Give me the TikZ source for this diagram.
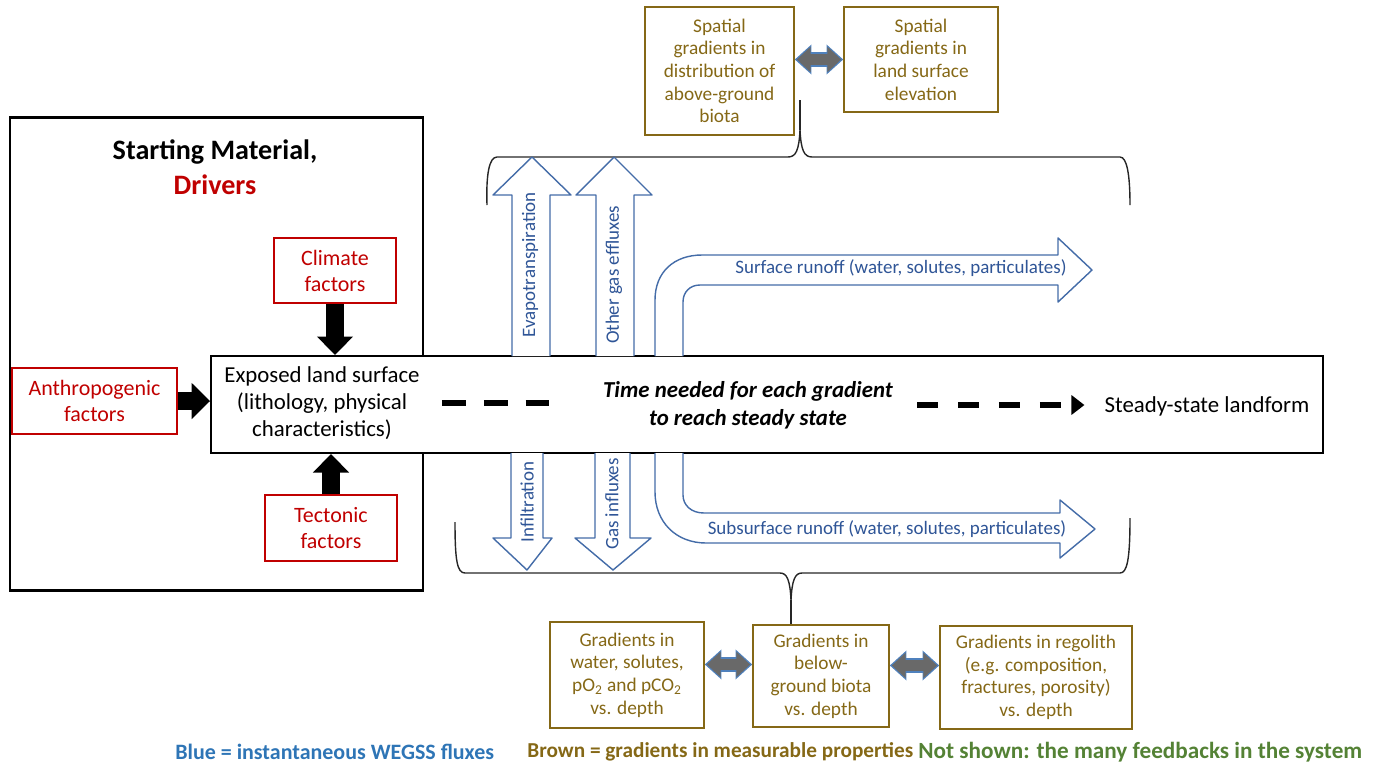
\documentclass[tikz,border=0pt]{standalone}
\usepackage{fontspec}
\setmainfont{Carlito}
\usetikzlibrary{arrows.meta}
\definecolor{drvred}{RGB}{192,0,0}
\definecolor{gradbrown}{RGB}{133,104,22}
\definecolor{fluxblue}{RGB}{47,85,151}
\definecolor{fluxline}{RGB}{68,108,168}
\definecolor{legblue}{RGB}{46,117,182}
\definecolor{leggreen}{RGB}{84,130,53}
\definecolor{linkgrey}{RGB}{105,105,105}
\definecolor{linkedge}{RGB}{79,129,189}
\tikzset{
  drvbox/.style={draw=drvred, line width=0.9pt, text=drvred, align=center, inner sep=0pt,
    font=\fontsize{12.5}{14.8}\selectfont},
  gradbox/.style={draw=gradbrown, line width=0.9pt, text=gradbrown, align=center, inner sep=0pt,
    font=\fontsize{11}{12.9}\selectfont},
  push/.style={line width=10pt, -{Triangle[width=20pt,length=10.5pt]}},
  linkout/.style={draw=linkedge, line width=8.6pt,
    {Triangle[width=16.5pt,length=9.5pt]}-{Triangle[width=16.5pt,length=9.5pt]}},
  linkin/.style={draw=linkgrey, line width=6.6pt, shorten <=1.2pt, shorten >=1.2pt,
    {Triangle[width=14pt,length=7.8pt]}-{Triangle[width=14pt,length=7.8pt]}},
  fluxshape/.style={draw=fluxline, line width=0.8pt, fill=white, line join=round},
  fluxlabel/.style={text=fluxblue, inner sep=0pt, font=\fontsize{10.8}{12}\selectfont},
  brace/.style={draw=black!85, line width=0.8pt},
  tdash/.style={line width=3.4pt},
  legend/.style={inner sep=0pt, anchor=west},
}
\begin{document}
\begin{tikzpicture}[x=0.02cm, y=-0.02cm]
\useasboundingbox (0,0) rectangle (1382,765);

% drivers
\node[draw, line width=1.2pt, minimum width=8.26cm, minimum height=9.46cm] (frame) at (216.5,354) {};
\node[align=center, inner sep=0pt, font=\fontsize{16}{19.8}\selectfont\bfseries] (title) at (215,167)
  {Starting Material,\\\textcolor{drvred}{Drivers}};
\node[drvbox, minimum width=2.44cm, minimum height=1.3cm] (climate) at (335,270.5) {Climate\\factors};
\node[drvbox, minimum width=3.3cm, minimum height=1.32cm] (anthro) at (94.5,401) {Anthropogenic\\factors};
\node[drvbox, minimum width=2.64cm, minimum height=1.32cm] (tectonic) at (331,528) {Tectonic\\factors};

% braces
\draw[brace] (487,205) .. controls (486,175) and (489,157) .. (497,157) -- (788,157)
  .. controls (796,157) and (799,150) .. (800,130) coordinate (topcusp)
  .. controls (801,150) and (804,157) .. (812,157) -- (1120,157)
  .. controls (1127,157) and (1130,175) .. (1130,205);
\coordinate (topend) at (800,100);
\draw[brace] (topcusp) -- (topend);
\draw[brace] (455,522) .. controls (455,560) and (457,573) .. (465,573) -- (780,573)
  .. controls (787,573) and (790,580) .. (791,600) coordinate (botcusp)
  .. controls (792,580) and (795,573) .. (802,573) -- (1120,573)
  .. controls (1127,573) and (1130,560) .. (1130,518);

% land surface
\node[draw, fill=white, line width=1.2pt, minimum width=22.24cm, minimum height=1.94cm] (centre) at (767,404.5) {};
\node[align=center, inner sep=0pt, font=\fontsize{13}{15.5}\selectfont] (exposed) at (322,403)
  {Exposed land surface\\(lithology, physical\\characteristics)};
\node[align=center, inner sep=0pt, font=\fontsize{13}{15.8}\selectfont\bfseries\itshape] (time) at (748,405)
  {Time needed for each gradient\\to reach steady state};
\node[inner sep=0pt, font=\fontsize{13}{15.5}\selectfont] (steady) at (1207,406) {Steady-state landform};
\draw[tdash, dash pattern=on 13.6pt off 10.2pt, shorten <=12.5pt, shorten >=20.4pt]
  (exposed.east) -- (exposed.east -| time.west);
\draw[tdash, dash pattern=on 12pt off 11.3pt, shorten <=13.6pt, shorten >=11.3pt,
  -{Triangle[width=10.8pt,length=7.4pt]}] (time.east) -- (steady.west |- time.east);

\draw[push] (climate.south) -- (climate.south |- centre.north);
\draw[push] (anthro.east) -- (anthro.east -| centre.west);
\draw[push] (tectonic.north) -- (tectonic.north |- centre.south);

% fluxes
\draw[fluxshape] (512,356) -- (512,195) -- (493,195) -- (532,157) -- (571,195) -- (550,195) -- (550,356);
\draw[fluxshape] (596,356) -- (596,195) -- (576,195) -- (614,157) -- (652,195) -- (634,195) -- (634,356);
\draw[fluxshape] (511,453) -- (511,538) -- (493,538) -- (527,570) -- (552,538) -- (543,538) -- (543,453);
\draw[fluxshape] (595,453) -- (595,538) -- (575,538) -- (613,570) -- (651,538) -- (630,538) -- (630,453);
\draw[fluxshape] (655,356) -- (655,300) .. controls (655,272) and (674,255) .. (702,255) -- (1058,255)
  -- (1058,238) -- (1092,270) -- (1058,302) -- (1058,285) -- (700,285)
  .. controls (690,285) and (683,292) .. (683,302) -- (683,356);
\draw[fluxshape] (655,453) -- (655,492) .. controls (655,522) and (676,543) .. (706,543) -- (1060,543)
  -- (1060,558) -- (1095,529) -- (1060,500) -- (1060,513) -- (704,513)
  .. controls (691,513) and (683,505) .. (683,495) -- (683,453);
\node[fluxlabel, rotate=90] (evap) at (530,265) {Evapotranspiration};
\node[fluxlabel, rotate=90] (effl) at (614,275) {Other gas effluxes};
\node[fluxlabel, rotate=90] (infil) at (527,502) {Infiltration};
\node[fluxlabel, rotate=90] (infl) at (612,504) {Gas influxes};
\node[fluxlabel] (surf) at (901,268) {Surface runoff (water, solutes, particulates)};
\node[fluxlabel] (subsurf) at (887,529) {Subsurface runoff (water, solutes, particulates)};

% gradients
\node[gradbox, minimum width=2.98cm, minimum height=2.56cm] (abovebiota) at (719.5,71) {Spatial\\gradients in\\distribution of\\above-ground\\biota};
\node[gradbox, minimum width=3.08cm, minimum height=2.1cm] (elevation) at (921,59.5) {Spatial\\gradients in\\land surface\\elevation};
\node[gradbox, minimum width=3.08cm, minimum height=2.12cm] (waterbox) at (627,675) {Gradients in\\water, solutes,\\pO\textsubscript{2} and pCO\textsubscript{2}\\vs. depth};
\node[gradbox, minimum width=2.72cm, minimum height=2.04cm] (biotabox) at (821,676) {Gradients in\\below-\\ground biota\\vs. depth};
\node[gradbox, minimum width=3.84cm, minimum height=2.06cm] (regolith) at (1036,677.5) {Gradients in regolith\\(e.g. composition,\\fractures, porosity)\\vs. depth};
\draw[brace] (botcusp) -- (botcusp |- biotabox.north);

\draw[linkout] (abovebiota.east |- elevation.west) -- (elevation.west);
\draw[linkin] (abovebiota.east |- elevation.west) -- (elevation.west);
\draw[linkout] ([yshift=6pt]waterbox.east) -- ([yshift=6pt]waterbox.east -| biotabox.west);
\draw[linkin] ([yshift=6pt]waterbox.east) -- ([yshift=6pt]waterbox.east -| biotabox.west);
\draw[linkout] ([yshift=6pt]biotabox.east) -- ([yshift=6pt]biotabox.east -| regolith.west);
\draw[linkin] ([yshift=6pt]biotabox.east) -- ([yshift=6pt]biotabox.east -| regolith.west);

% legend
\node[legend, text=legblue, font=\fontsize{12.5}{14}\selectfont\bfseries] (legblue) at (175,752) {Blue = instantaneous WEGSS fluxes};
\node[legend, text=gradbrown, font=\fontsize{12.1}{14}\selectfont\bfseries] (legbrown) at (527,752) {Brown = gradients in measurable properties};
\node[legend, text=leggreen, font=\fontsize{13.2}{14}\selectfont\bfseries] (leggreen) at (918,752) {Not shown: the many feedbacks in the system};
\end{tikzpicture}
\end{document}
